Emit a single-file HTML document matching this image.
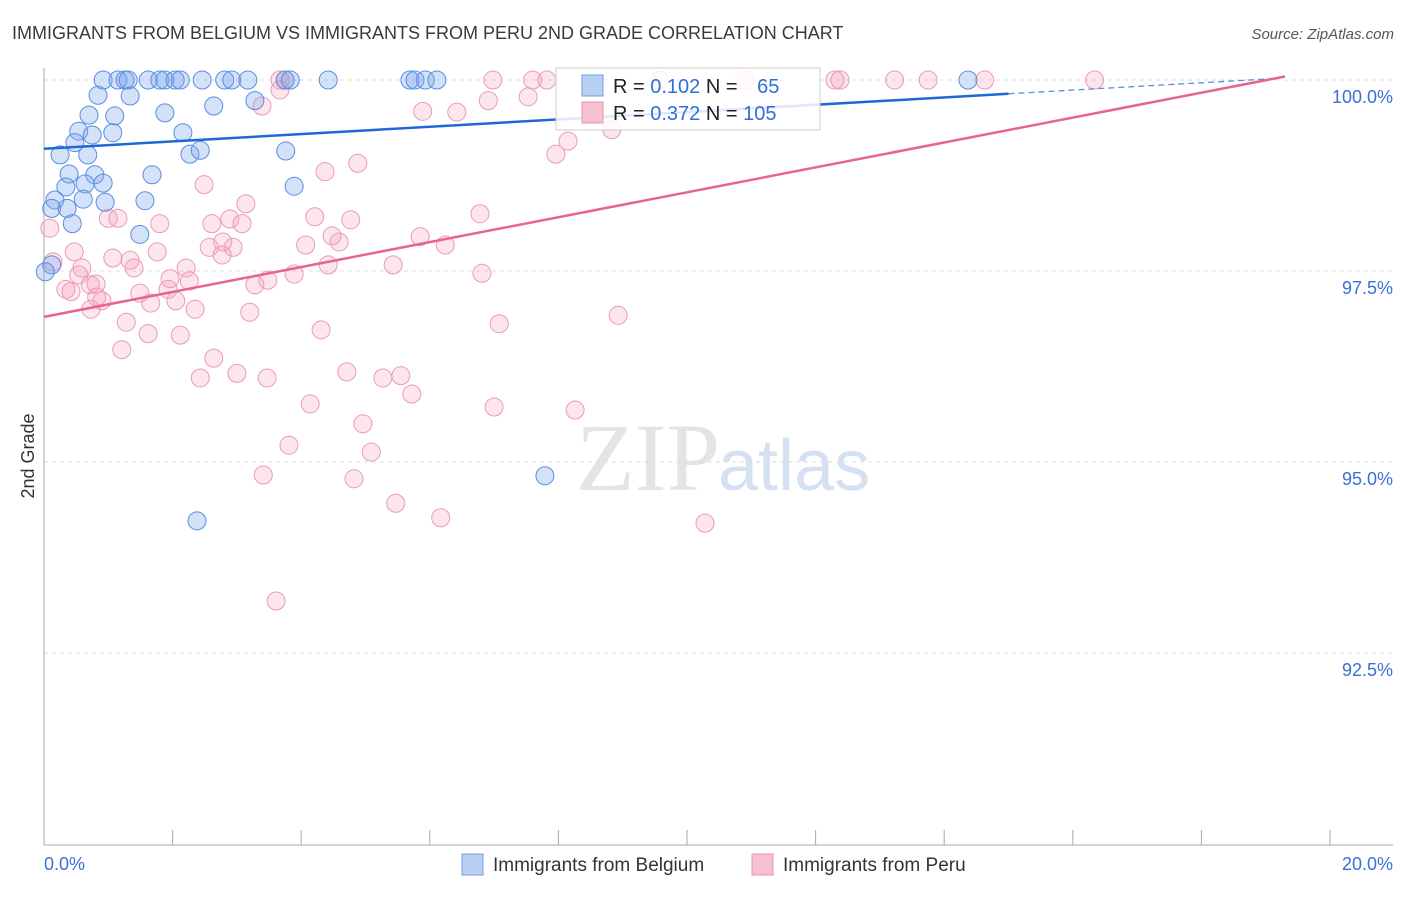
<!DOCTYPE html>
<html><head><meta charset="utf-8"><style>
body{margin:0;background:#fff;font-family:"Liberation Sans",sans-serif;}
</style></head><body>
<svg id="chart" width="1406" height="892" xmlns="http://www.w3.org/2000/svg">
<text x="12" y="39" font-size="18" fill="#3a3a3a">IMMIGRANTS FROM BELGIUM VS IMMIGRANTS FROM PERU 2ND GRADE CORRELATION CHART</text>
<text x="1394" y="39" font-size="15" fill="#555" text-anchor="end" font-style="italic">Source: ZipAtlas.com</text>
<text x="720" y="490" font-size="96" fill="#e4e4e4" text-anchor="end" font-family="Liberation Serif,serif">ZIP</text>
<text x="718" y="490" font-size="72" fill="#d5e1f3">atlas</text>
<g id="grid"></g><g id="axes"></g><g id="pts"></g><g id="lines"></g>
<text transform="translate(34,456) rotate(-90)" font-size="18" fill="#333" text-anchor="middle">2nd Grade</text>
<g>
<rect x="556" y="68" width="264" height="62" fill="#fff" fill-opacity="0.85" stroke="#ccc"/>
<rect x="582" y="75" width="21" height="21" fill="#b9d0f3" stroke="#6e9ee6"/>
<rect x="582" y="102" width="21" height="21" fill="#f7c0d2" stroke="#eb92b1"/>
<text x="613" y="93" font-size="20" fill="#222">R = <tspan fill="#2f6fd8">0.102</tspan>   N = <tspan fill="#2f6fd8" dx="14">65</tspan></text>
<text x="613" y="120" font-size="20" fill="#222">R = <tspan fill="#2f6fd8">0.372</tspan>   N = <tspan fill="#2f6fd8">105</tspan></text>
</g>
<g>
<rect x="462" y="854" width="21" height="21" fill="#b9d0f3" stroke="#6e9ee6"/>
<text x="493" y="871" font-size="19" fill="#333">Immigrants from Belgium</text>
<rect x="752" y="854" width="21" height="21" fill="#f7c0d2" stroke="#eb92b1"/>
<text x="783" y="871" font-size="19" fill="#333">Immigrants from Peru</text>
</g>
</svg>
<script>
const yTicks=[100,97.5,95,92.5];
const yTickLabels=["100.0%","97.5%","95.0%","92.5%"];
const xTickLabels=["0.0%","20.0%"];
const belgiumX=[0.92,1.15,1.26,1.31,1.62,1.80,1.88,2.04,2.12,2.46,2.81,2.92,3.17,3.75,3.83,4.42,5.69,5.77,5.93,6.11,14.37,0.84,1.34,1.88,2.64,3.28,0.70,1.10,0.54,0.75,2.16,1.07,0.48,0.25,0.68,2.27,2.43,3.76,1.68,0.39,0.79,0.34,0.64,0.92,3.89,1.57,0.17,0.61,0.95,0.12,0.36,0.44,1.49,0.12,7.79,2.38,0.02];
const belgiumY=[100,100,100,100,100,100,100,100,100,100,100,100,100,100,100,100,100,100,100,100,100,99.80,99.79,99.57,99.66,99.73,99.54,99.53,99.33,99.28,99.31,99.31,99.18,99.02,99.02,99.03,99.08,99.07,98.76,98.77,98.76,98.60,98.64,98.65,98.61,98.42,98.43,98.44,98.40,98.32,98.32,98.12,97.98,97.58,94.82,94.23,97.49];
const peruX=[3.67,3.75,6.98,7.60,7.82,9.58,10.90,12.30,12.38,13.23,13.75,14.63,16.34,3.67,3.39,5.89,6.42,6.91,7.53,8.15,7.96,8.83,4.88,4.37,2.49,3.14,1.00,1.15,1.80,2.61,2.89,3.08,4.21,4.77,6.78,4.48,4.07,4.59,5.85,6.24,2.57,2.94,2.78,2.77,0.47,1.76,1.07,1.34,2.21,4.42,5.43,6.81,0.59,0.54,1.40,1.96,3.48,3.89,2.26,0.72,0.81,1.49,1.93,2.05,3.28,0.34,0.42,0.82,0.90,1.66,0.73,2.35,3.20,1.28,1.62,2.12,4.31,7.08,8.93,1.21,2.64,2.43,3.00,3.47,4.71,5.27,5.55,5.72,4.14,7.00,8.26,4.96,3.81,5.09,3.41,4.82,5.47,6.17,10.28,3.61,0.09,0.14];
const peruY=[100,100,100,100,100,100,100,100,100,100,100,100,100,99.87,99.66,99.59,99.58,99.73,99.78,99.20,99.03,99.35,98.91,98.80,98.63,98.38,98.19,98.19,98.12,98.12,98.18,98.12,98.21,98.17,98.25,97.96,97.84,97.88,97.95,97.84,97.81,97.81,97.88,97.71,97.75,97.75,97.67,97.64,97.54,97.58,97.58,97.47,97.54,97.45,97.54,97.40,97.38,97.46,97.37,97.32,97.33,97.21,97.26,97.11,97.32,97.26,97.23,97.16,97.11,97.08,97.00,97.00,96.96,96.83,96.68,96.66,96.73,96.81,96.92,96.47,96.36,96.10,96.16,96.10,96.18,96.10,96.13,95.89,95.76,95.72,95.68,95.50,95.22,95.13,94.83,94.78,94.46,94.27,94.20,93.18,98.06,97.62];
const belgiumTrend=[99.10,0.048]; // intercept, slope per %
const peruTrend=[96.90,0.163];
const NS="http://www.w3.org/2000/svg";
const X=v=>44+v*64.3, Y=v=>80+(100-v)*76.4;
function mk(tag,attrs,parent){const e=document.createElementNS(NS,tag);for(const k in attrs)e.setAttribute(k,attrs[k]);document.getElementById(parent).appendChild(e);return e;}
yTicks.forEach((t,i)=>{
 const g=mk('line',{x1:44,x2:1393,y1:Y(t),y2:Y(t),stroke:'#ddd','stroke-dasharray':'4,4'},'grid');
 
 
 const l=mk('text',{x:1393,y:Y(t)+23,'font-size':18,fill:'#3b70d6','text-anchor':'end'},'grid');
 l.textContent=yTickLabels[i];
 
 
});
const ax=mk('line',{x1:44,x2:44,y1:68,y2:845,stroke:'#aaa'},'axes');


const bx=mk('line',{x1:44,x2:1393,y1:845,y2:845,stroke:'#aaa'},'axes');


for(let i=0;i<=10;i++){const t=mk('line',{x1:X(i*2),x2:X(i*2),y1:830,y2:845,stroke:'#aaa'},'axes');
 
 }
const xl0=mk('text',{x:44,y:870,'font-size':18,fill:'#3b70d6'},'axes');xl0.textContent=xTickLabels[0];


const xl1=mk('text',{x:1393,y:870,'font-size':18,fill:'#3b70d6','text-anchor':'end'},'axes');xl1.textContent=xTickLabels[1];


peruX.forEach((v,i)=>{const c=mk('circle',{cx:X(v),cy:Y(peruY[i]),r:9,fill:'rgba(244,160,188,0.28)',stroke:'#eb9ab6','stroke-width':1},'pts');
 
 });
belgiumX.forEach((v,i)=>{const c=mk('circle',{cx:X(v),cy:Y(belgiumY[i]),r:9,fill:'rgba(120,165,235,0.32)',stroke:'#5b8de0','stroke-width':1},'pts');
 
 });
const bl=mk('line',{x1:X(0),y1:Y(belgiumTrend[0]),x2:X(15),y2:Y(belgiumTrend[0]+belgiumTrend[1]*15),stroke:'#1f68d6','stroke-width':2.5},'lines');


const bd=mk('line',{x1:X(15),y1:Y(belgiumTrend[0]+belgiumTrend[1]*15),x2:X(19.2),y2:Y(belgiumTrend[0]+belgiumTrend[1]*19.2),stroke:'#5b8de0','stroke-width':1.3,'stroke-dasharray':'6,4'},'lines');


const pl=mk('line',{x1:X(0),y1:Y(peruTrend[0]),x2:X(19.3),y2:Y(peruTrend[0]+peruTrend[1]*19.3),stroke:'#e8648f','stroke-width':2.5},'lines');


</script>
</body></html>
